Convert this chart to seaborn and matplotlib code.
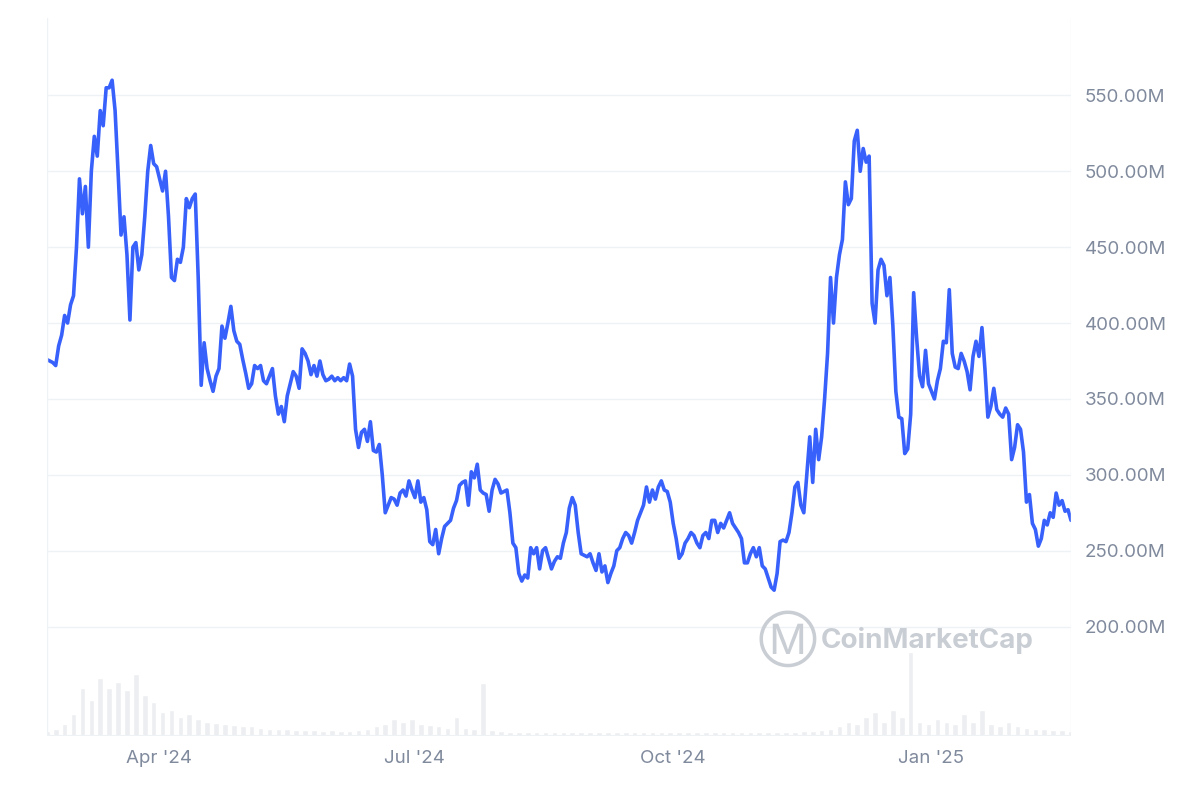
import pandas as pd
import matplotlib.pyplot as plt
import matplotlib.ticker as mticker
import seaborn as sns

# market cap (millions USD), roughly daily from 2024-02-21 to 2025-02-20
market_cap = [
    376, 375, 374, 372, 385, 392, 405, 400, 412, 418, 450, 495, 472, 490, 450, 500, 523, 510, 540, 530,
    555, 555, 560, 540, 500, 458, 470, 445, 402, 450, 453, 435, 445, 470, 500, 517, 505, 503, 495, 487,
    500, 470, 430, 428, 442, 440, 450, 482, 476, 482, 485, 430, 359, 387, 370, 362, 355, 365, 370, 398,
    390, 400, 411, 395, 388, 386, 376, 367, 357, 360, 372, 370, 372, 362, 360, 365, 370, 352, 340, 345,
    335, 352, 360, 368, 365, 357, 383, 380, 375, 366, 372, 365, 375, 366, 362, 363, 365, 362, 364, 362,
    364, 362, 373, 365, 330, 318, 328, 330, 322, 335, 316, 315, 320, 300, 275, 280, 285, 284, 280, 288,
    290, 286, 296, 290, 285, 296, 282, 285, 277, 256, 254, 264, 248, 258, 266, 268, 270, 278, 283, 293,
    295, 296, 280, 302, 298, 307, 290, 288, 287, 276, 290, 297, 294, 288, 289, 290, 275, 255, 252, 235,
    230, 234, 232, 252, 248, 252, 238, 250, 252, 245, 238, 243, 246, 245, 255, 262, 278, 285, 280, 262,
    248, 247, 246, 248, 242, 237, 248, 236, 240, 229, 235, 240, 250, 252, 258, 262, 260, 255, 262, 270,
    275, 280, 292, 282, 290, 284, 292, 296, 290, 289, 282, 268, 258, 245, 248, 255, 258, 262, 260, 255,
    252, 260, 262, 258, 270, 270, 262, 268, 265, 270, 275, 268, 265, 262, 258, 242, 242, 248, 252, 246,
    252, 240, 238, 232, 226, 224, 235, 256, 257, 256, 262, 275, 292, 295, 280, 275, 300, 325, 295, 330,
    310, 325, 350, 380, 430, 400, 430, 445, 455, 493, 478, 482, 520, 527, 500, 515, 506, 510, 413, 400,
    435, 442, 438, 418, 430, 398, 355, 338, 337, 314, 317, 340, 420, 390, 365, 358, 382, 360, 355, 350,
    362, 370, 388, 387, 422, 380, 371, 370, 380, 375, 368, 356, 378, 388, 378, 397, 370, 338, 345, 357,
    343, 340, 338, 344, 340, 310, 318, 333, 330, 315, 282, 287, 268, 264, 253, 258, 270, 267, 275, 272,
    288, 280, 283, 276, 277, 270,
]

# trading volume, relative units, one value per ~3 days
volume = [
    4, 6, 10, 18, 40, 30, 48, 40, 45, 38, 52, 34, 28, 20, 22, 16, 18, 14, 12, 11,
    10, 9, 8, 8, 7, 6, 6, 6, 5, 5, 5, 4, 5, 4, 4, 5, 6, 8, 10, 14,
    12, 14, 10, 9, 8, 7, 16, 7, 6, 44, 5, 4, 3, 3, 3, 3, 3, 3, 3, 3,
    3, 3, 3, 3, 3, 3, 3, 3, 3, 3, 3, 3, 3, 3, 3, 3, 3, 3, 3, 3,
    3, 3, 3, 3, 3, 4, 4, 5, 6, 8, 12, 10, 16, 20, 12, 22, 16, 70, 12, 10,
    14, 12, 10, 18, 12, 22, 10, 8, 12, 8, 7, 6, 6, 5, 5, 4,
]

dates = pd.date_range("2024-02-21", "2025-02-20", periods=len(market_cap))
vol_dates = pd.date_range("2024-02-21", "2025-02-20", periods=len(volume))
df = pd.DataFrame({"date": dates, "cap": market_cap})

sns.set_style("white")
plt.rcParams["font.family"] = ["Inter", "DejaVu Sans"]

fig = plt.figure(figsize=(12, 7.99), dpi=100)
ax = fig.add_axes([0.039, 0.079, 0.8535, 0.8985])

axv = ax.twinx()
axv.bar(vol_dates, volume, width=2.0, color="#eceef1")
axv.set_ylim(0, 600)
axv.axis("off")
ax.set_zorder(axv.get_zorder() + 1)
ax.patch.set_visible(False)

sns.lineplot(data=df, x="date", y="cap", ax=ax, color="#3861fb", linewidth=2.6)

ax.set_ylim(128, 601)
ax.set_xlim(pd.Timestamp("2024-02-21"), pd.Timestamp("2025-02-20"))
ax.yaxis.tick_right()
ax.set_yticks([200, 250, 300, 350, 400, 450, 500, 550])
ax.yaxis.set_major_formatter(mticker.FuncFormatter(lambda v, p: f"{v:.2f}M"))
ax.set_xticks(pd.to_datetime(["2024-04-01", "2024-07-01", "2024-10-01", "2025-01-01"]))
ax.set_xticklabels(["Apr '24", "Jul '24", "Oct '24", "Jan '25"])
ax.tick_params(axis="both", length=0, labelsize=13.5, colors="#808a9d", pad=10)
ax.grid(axis="y", color="#eff2f5", linewidth=1)
ax.set_xlabel("")
ax.set_ylabel("")
for side in ["top", "bottom", "left", "right"]:
    ax.spines[side].set_visible(False)
ax.axvline(ax.get_xlim()[0], color="#eff2f5", lw=1)
ax.axvline(ax.get_xlim()[1], color="#eff2f5", lw=1)
ax.axhline(128, color="#eff2f5", lw=1.5)

fig.text(0.632, 0.201, "\u24c2", fontsize=30, color="#c9cdd4", va="center")
fig.text(0.684, 0.198, "CoinMarketCap", fontsize=20, color="#c9cdd4",
         fontweight="bold", va="center")

plt.savefig("out.png", dpi=100)
